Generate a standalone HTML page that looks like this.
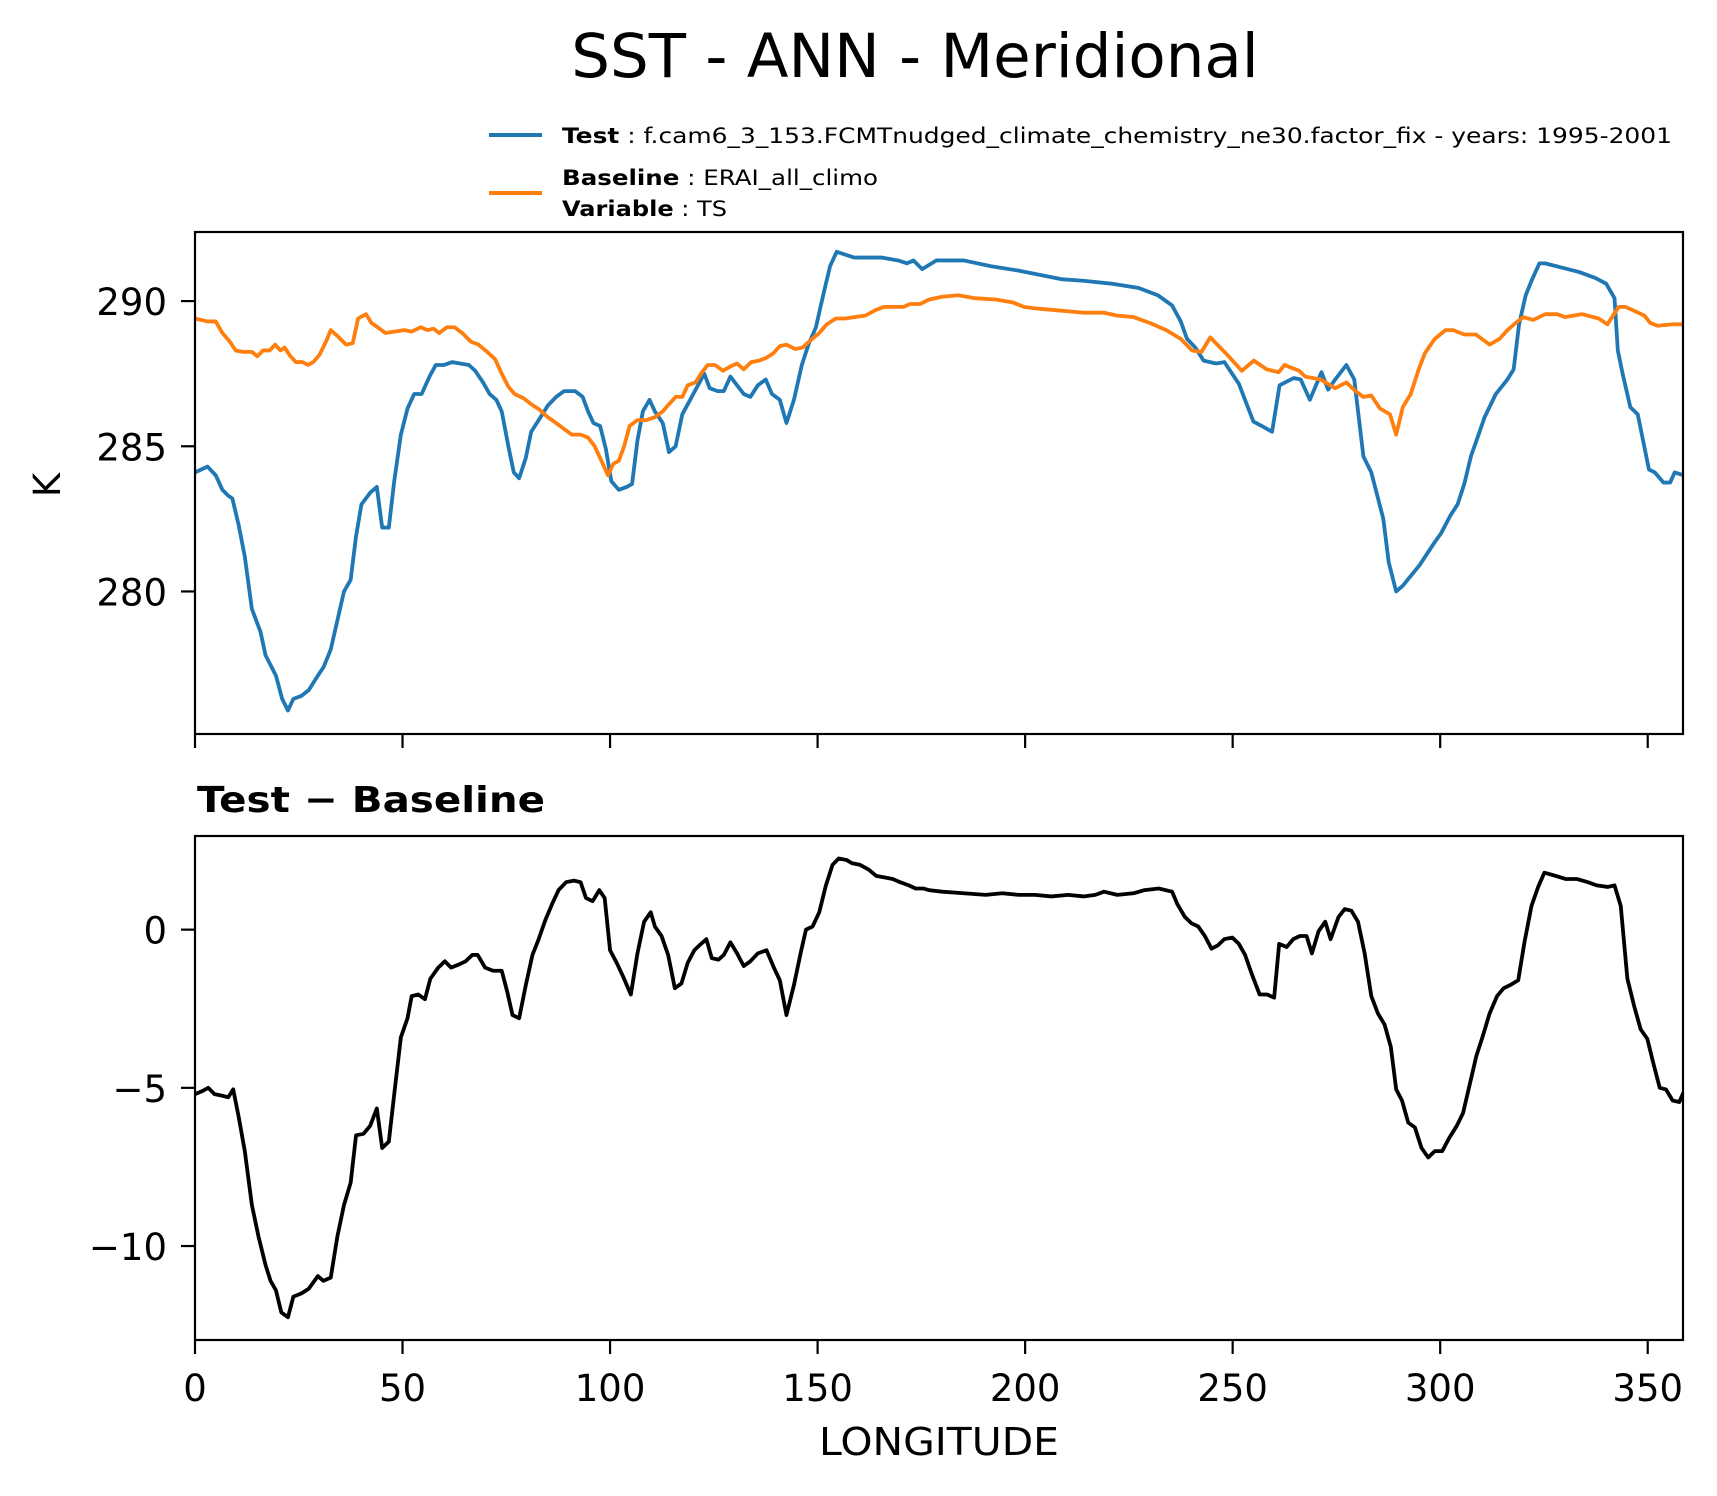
<!DOCTYPE html>
<html><head><meta charset="utf-8"><style>
html,body{margin:0;padding:0;background:#fff;}
svg{display:block;font-family:"DejaVu Sans","Liberation Sans",sans-serif;}
</style></head><body>
<svg id="fig" width="1717" height="1496" viewBox="0 0 1717 1496" xmlns="http://www.w3.org/2000/svg">
<rect x="0" y="0" width="1717" height="1496" fill="#fff"/>
<text x="915" y="77" font-size="61" text-anchor="middle">SST - ANN - Meridional</text>
<g>
<line x1="489" y1="135" x2="542" y2="135" stroke="#1f77b4" stroke-width="4"/>
<text x="562" y="143" font-size="21" textLength="1110" lengthAdjust="spacingAndGlyphs"><tspan font-weight="bold">Test</tspan> : f.cam6_3_153.FCMTnudged_climate_chemistry_ne30.factor_fix - years: 1995-2001</text>
<line x1="489" y1="193" x2="542" y2="193" stroke="#ff7f0e" stroke-width="4"/>
<text x="562" y="185" font-size="21" textLength="316" lengthAdjust="spacingAndGlyphs"><tspan font-weight="bold">Baseline</tspan> : ERAI_all_climo</text>
<text x="562" y="216" font-size="21" textLength="165" lengthAdjust="spacingAndGlyphs"><tspan font-weight="bold">Variable</tspan> : TS</text>
</g>
<text transform="translate(60,485) rotate(-90)" font-size="37" text-anchor="middle">K</text>
<text x="197" y="812" font-size="36" font-weight="bold" textLength="348" lengthAdjust="spacingAndGlyphs">Test − Baseline</text>
<text x="939" y="1455" font-size="38" text-anchor="middle" textLength="240" lengthAdjust="spacingAndGlyphs">LONGITUDE</text>
<g id="top"></g>
<g id="bot"></g>
</svg>
<script>
const testLon=[0,3,5,6.6,8,9,10.5,12,13.7,15.8,17,19.5,21,22.4,23.7,25.6,27.4,29.6,31,32.7,34.3,35.9,37.5,38.8,40.1,42.2,43.8,45.1,46.7,48,49.6,51.2,52.8,54.6,56.5,58,60,62,63.9,66,67.5,69.4,71,72.6,73.9,75.5,76.8,78.1,79.7,81,82.8,85,87,88.9,91.6,93.4,94.7,96,97.6,99,100.3,102.1,104,105.3,106.6,107.9,109.5,110.8,112.7,114.2,115.8,117.4,119.3,120.8,122.7,124,125.9,127.4,129,130.6,132.2,133.8,135.6,137.5,139,140.9,142.5,144.3,146.2,147.8,149.6,151.5,153,154.6,156.7,158.8,161.5,165.4,169.4,171.5,173.1,175.2,178.6,185.2,191.8,198.4,203.7,209,214,220.8,227.4,232,235.4,237.5,239,241,243,246,248,251.5,255,257,259.5,261.3,264.7,266.4,268.6,271.4,273,274.7,277.4,279.3,281.5,283.4,286.3,287.6,289.4,291,295,298.7,300.2,302.4,304.2,305.8,307.4,309,310.7,313.4,316.2,317.7,319,320.6,322,323.9,325.3,329.4,333.5,337.3,340,342,342.8,343.8,345.8,347.6,350.3,351.7,353.8,355.4,356.5,358.6];
const testVal=[284.1,284.3,284.0,283.5,283.3,283.2,282.3,281.2,279.4,278.6,277.8,277.1,276.3,275.9,276.3,276.4,276.6,277.1,277.4,278.0,279.0,280.0,280.4,281.9,283.0,283.4,283.6,282.2,282.2,283.8,285.4,286.3,286.8,286.8,287.4,287.8,287.8,287.9,287.85,287.8,287.6,287.2,286.8,286.6,286.2,285.0,284.1,283.9,284.6,285.5,285.9,286.4,286.7,286.9,286.9,286.7,286.2,285.8,285.7,284.9,283.8,283.5,283.6,283.7,285.2,286.2,286.6,286.2,285.8,284.8,285.0,286.1,286.6,287.0,287.5,287.0,286.9,286.9,287.4,287.1,286.8,286.7,287.1,287.3,286.8,286.6,285.8,286.6,287.8,288.5,289.1,290.3,291.2,291.7,291.6,291.5,291.5,291.5,291.4,291.3,291.4,291.1,291.4,291.4,291.2,291.05,290.9,290.75,290.7,290.6,290.45,290.2,289.85,289.3,288.7,288.4,287.95,287.85,287.9,287.15,285.85,285.7,285.5,287.1,287.35,287.3,286.6,287.55,286.95,287.3,287.8,287.3,284.65,284.1,282.5,281.0,280.0,280.2,280.9,281.7,282.0,282.6,283.0,283.7,284.65,285.3,286.0,286.8,287.3,287.65,289.2,290.2,290.7,291.3,291.3,291.15,291.0,290.8,290.6,290.1,288.3,287.6,286.35,286.1,284.2,284.1,283.75,283.75,284.1,284.0];
const baseLon=[0,3,5,6.6,8.4,9.8,11.6,13.7,15,16.4,18,19.3,20.6,21.6,23,24.3,25.9,27.2,28.5,30,31.7,32.7,34.3,36.4,38,39.3,41.2,42.5,44,45.9,48,50.4,52.2,54.4,56,57.5,58.8,60.7,62.5,64.4,66.5,68.3,70.4,72.3,73.9,75.5,77,79.2,81,83.1,85,87,88.9,90.8,92.9,94.7,96.3,97.6,99.5,100.8,102.1,103.4,104.7,106.6,108.7,110.8,112.7,114.2,115.8,117.4,118.7,120.6,121.9,123.5,125.3,127.2,129,130.6,132.2,134,135.9,137.7,139.3,140.9,142.5,144.6,146.4,148.3,150.4,152.2,154.4,156.7,158.8,161.5,164.1,166,168.6,170.7,172.3,174.7,176.8,180,183.9,187.9,193.1,197.1,199.7,202.4,206.3,210.3,214.2,219,222.2,226.1,230,234,237.5,240.2,242.5,244.6,248.7,252.2,255.1,258.2,261.1,262.5,266,267.5,271.2,274.7,277.4,279.6,281.5,283.4,285.5,287.9,289.4,291,292.9,294.7,296.3,298.7,301.3,303.1,305.8,308.6,311.9,314.3,316.2,318.2,320,322.4,325.3,328.2,330,334.2,338.2,340.3,343,344.6,346.2,349.2,350.6,352.4,355.9,358.6];
const baseVal=[289.4,289.3,289.3,288.9,288.6,288.3,288.25,288.25,288.1,288.3,288.3,288.5,288.3,288.4,288.1,287.9,287.9,287.8,287.9,288.15,288.65,289.0,288.8,288.5,288.55,289.4,289.55,289.25,289.1,288.9,288.95,289.0,288.95,289.1,289.0,289.05,288.9,289.1,289.1,288.9,288.6,288.5,288.25,288.0,287.5,287.05,286.8,286.65,286.45,286.25,286.0,285.8,285.6,285.4,285.4,285.3,285.0,284.6,284.0,284.4,284.5,285.0,285.7,285.9,285.9,286.0,286.2,286.45,286.7,286.7,287.1,287.2,287.5,287.8,287.8,287.6,287.75,287.85,287.65,287.9,287.95,288.05,288.2,288.45,288.5,288.35,288.4,288.65,288.9,289.2,289.4,289.4,289.45,289.5,289.7,289.8,289.8,289.8,289.9,289.9,290.05,290.15,290.2,290.1,290.05,289.95,289.8,289.75,289.7,289.65,289.6,289.6,289.5,289.45,289.25,289.0,288.7,288.3,288.25,288.75,288.15,287.6,287.95,287.65,287.55,287.8,287.6,287.4,287.3,287.0,287.2,286.9,286.7,286.75,286.3,286.1,285.4,286.35,286.8,287.6,288.2,288.7,289.0,289.0,288.85,288.85,288.5,288.7,289.0,289.25,289.45,289.35,289.55,289.55,289.45,289.55,289.4,289.2,289.8,289.8,289.7,289.5,289.25,289.15,289.2,289.2];
const diffLon=[0,1.8,3.2,4.7,6.6,8,9.2,10.5,12,13.7,15.3,17,18.2,19.5,20.8,22.4,23.7,25.6,27.4,29.6,30.9,32.7,34.3,35.9,37.5,38.8,40.6,42.2,43.8,45.1,46.7,48,49.6,51.2,52.2,53.8,55.4,56.7,58.6,60.2,61.7,63.6,65.2,66.8,68.1,69.9,71.8,73.9,75.2,76.5,78.1,79.7,81.3,82.8,84.4,86,87.6,89.4,91.3,92.9,94.2,95.8,97.4,98.7,100,101.6,103.2,105,106.6,108.2,109.8,110.8,112.4,114,115.6,117.2,118.7,120.3,121.9,123.2,124.5,126.1,127.4,129,130.6,132.2,133.8,135.6,137.7,139.3,140.9,142.5,144.3,145.9,147.2,148.8,150.4,152,153.6,155.1,157,158.3,160.2,162.3,164.1,166.2,168.1,169.9,172,173.6,175.5,176.8,180,185.2,190.5,194.5,198.4,202.4,206.3,210.3,214.2,216.9,219,222.2,226.1,228.8,232.2,235.4,236.7,238.5,240.1,241.7,243.3,244.9,246.4,248,249.9,251.5,253,254.6,256.5,258.3,260,261.2,263,264.6,266.2,267.8,269.1,270.7,272.3,273.6,275.5,277,278.6,280.2,281.8,283.4,285,286.6,288.1,289.4,290.8,292.3,293.9,295.5,297.1,298.7,300.5,302.1,304,305.5,307.1,308.7,310.3,311.9,313.7,315.3,316.9,318.8,320.3,322,323.6,325.1,327.8,330.3,333,335.6,337.7,340.4,342,343.5,345.1,346.7,348.3,349.9,351.5,352.9,354.4,356,357.6,358.6];
const diffVal=[-5.2,-5.1,-5.0,-5.2,-5.25,-5.3,-5.05,-5.9,-7.0,-8.7,-9.7,-10.6,-11.1,-11.4,-12.1,-12.25,-11.6,-11.5,-11.35,-10.95,-11.1,-11.0,-9.7,-8.7,-8.0,-6.5,-6.45,-6.2,-5.65,-6.9,-6.7,-5.2,-3.4,-2.8,-2.1,-2.05,-2.2,-1.55,-1.2,-1.0,-1.2,-1.1,-1.0,-0.8,-0.8,-1.2,-1.3,-1.3,-1.95,-2.7,-2.8,-1.75,-0.8,-0.3,0.3,0.8,1.25,1.5,1.55,1.5,1.0,0.9,1.25,1.0,-0.65,-1.05,-1.5,-2.05,-0.75,0.25,0.55,0.1,-0.2,-0.8,-1.85,-1.7,-1.05,-0.65,-0.45,-0.3,-0.9,-0.95,-0.8,-0.4,-0.75,-1.15,-1.0,-0.75,-0.65,-1.15,-1.6,-2.7,-1.75,-0.75,0.0,0.1,0.55,1.4,2.05,2.25,2.2,2.1,2.05,1.9,1.7,1.65,1.6,1.5,1.4,1.3,1.3,1.25,1.2,1.15,1.1,1.15,1.1,1.1,1.05,1.1,1.05,1.1,1.2,1.1,1.15,1.25,1.3,1.2,0.8,0.4,0.2,0.1,-0.2,-0.6,-0.5,-0.3,-0.25,-0.45,-0.8,-1.4,-2.05,-2.05,-2.15,-0.45,-0.55,-0.3,-0.2,-0.2,-0.75,-0.05,0.25,-0.3,0.4,0.65,0.6,0.25,-0.75,-2.1,-2.65,-3.0,-3.7,-5.05,-5.4,-6.1,-6.25,-6.9,-7.2,-7.0,-7.0,-6.6,-6.2,-5.8,-4.9,-4.0,-3.35,-2.65,-2.1,-1.85,-1.75,-1.6,-0.4,0.75,1.35,1.8,1.7,1.6,1.6,1.5,1.4,1.35,1.4,0.75,-1.55,-2.4,-3.15,-3.45,-4.3,-5.0,-5.05,-5.4,-5.45,-5.15];
const xTicks=[0,50,100,150,200,250,300,350];
const xTickLabels=["0","50","100","150","200","250","300","350"];
const topYTicks=[280,285,290];
const topYTickLabels=["280","285","290"];
const botYTicks=[-10,-5,0];
const botYTickLabels=["\u221210","\u22125","0"];

const NS="http://www.w3.org/2000/svg";
const X0=195,X1=1683,LON0=0,LON1=358.5;
function xs(v){return X0+(v-LON0)/(LON1-LON0)*(X1-X0);}
const TOP={y0:232,y1:734,vmin:275.09,vmax:292.38};
const BOT={y0:836,y1:1340,vmin:-12.97,vmax:2.96};
function ys(p,v){return p.y1-(v-p.vmin)/(p.vmax-p.vmin)*(p.y1-p.y0);}
function mk(tag,attrs,parent){const e=document.createElementNS(NS,tag);for(const k in attrs)e.setAttribute(k,attrs[k]);parent.appendChild(e);return e;}
function series(g,p,lons,vals,color,name){
  let d="";
  for(let i=0;i<lons.length;i++){d+=(i?"L":"M")+xs(lons[i]).toFixed(2)+","+ys(p,vals[i]).toFixed(2);}
  const el=mk("path",{d:d,fill:"none",stroke:color,"stroke-width":3.8,"stroke-linejoin":"round","stroke-linecap":"square","clip-path":"url(#clip-"+g.id+")"},g);
  
  
}
function panel(g,p,yt,ytl,showXLabels,prefix){
  const defs=mk("defs",{},g);
  const cp=mk("clipPath",{id:"clip-"+g.id},defs);
  mk("rect",{x:X0,y:p.y0,width:X1-X0,height:p.y1-p.y0},cp);
  for(let i=0;i<yt.length;i++){
    const y=ys(p,yt[i]);
    const t=mk("line",{x1:X0-14,y1:y,x2:X0,y2:y,stroke:"#000","stroke-width":2.2},g);
    
    
    const l=mk("text",{x:X0-28,y:y+14,"font-size":37,"text-anchor":"end"},g);
    l.textContent=ytl[i];
    
    
  }
  for(let i=0;i<xTicks.length;i++){
    const x=xs(xTicks[i]);
    const t=mk("line",{x1:x,y1:p.y1,x2:x,y2:p.y1+14,stroke:"#000","stroke-width":2.2},g);
    
    
    if(showXLabels){
      const l=mk("text",{x:x,y:p.y1+61,"font-size":37,"text-anchor":"middle"},g);
      l.textContent=xTickLabels[i];
      
      
    }
  }
}
function frame(g,p,prefix){
  const r=mk("rect",{x:X0,y:p.y0,width:X1-X0,height:p.y1-p.y0,fill:"none",stroke:"#000","stroke-width":2.2},g);
  
  
}
const gt=document.getElementById("top"),gb=document.getElementById("bot");
panel(gt,TOP,topYTicks,topYTickLabels,false,"top");
series(gt,TOP,testLon,testVal,"#1f77b4","test-line");
series(gt,TOP,baseLon,baseVal,"#ff7f0e","baseline-line");
frame(gt,TOP,"top");
panel(gb,BOT,botYTicks,botYTickLabels,true,"diff");
series(gb,BOT,diffLon,diffVal,"#000000","difference-line");
frame(gb,BOT,"diff");
</script>
</body></html>
